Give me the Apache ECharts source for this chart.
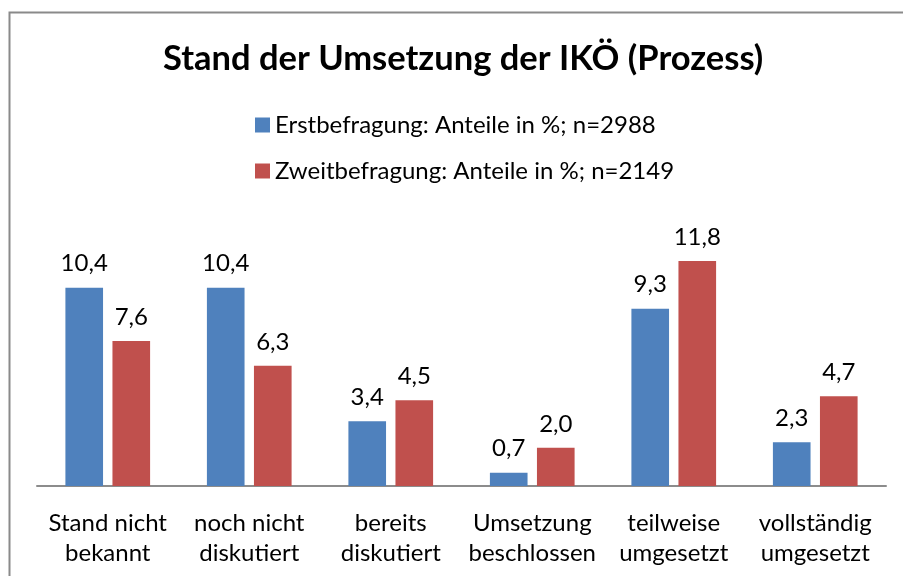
<!DOCTYPE html>
<html>
<head>
<meta charset="utf-8">
<script src="https://cdn.jsdelivr.net/npm/echarts@6/dist/echarts.min.js"></script>
<style>
html,body{margin:0;padding:0;background:#fff;}
#c{width:903px;height:576px;}
</style>
</head>
<body>
<div id="c"></div>
<script>
var titleText = 'Stand der Umsetzung der IKÖ (Prozess)';
var categories = ['Stand nicht\nbekannt', 'noch nicht\ndiskutiert', 'bereits\ndiskutiert', 'Umsetzung\nbeschlossen', 'teilweise\numgesetzt', 'vollständig\numgesetzt'];
var seriesNames = ['Erstbefragung: Anteile in %; n=2988', 'Zweitbefragung: Anteile in %; n=2149'];
var erst = [10.4, 10.4, 3.4, 0.7, 9.3, 2.3];
var zweit = [7.6, 6.3, 4.5, 2.0, 11.8, 4.7];
var colors = ['#4f81bd', '#c0504d'];
var FONT = 'Lato, "Open Sans", sans-serif';

var chart = echarts.init(document.getElementById('c'));
function fmt(p){ return p.value.toFixed(1).replace('.', ','); }
chart.setOption({
  backgroundColor: '#fff',
  animation: false,
  graphic: [{
    type: 'rect', left: 7, top: 10,
    shape: {width: 1000, height: 1000},
    style: {fill: 'none', stroke: '#8a8a8a', lineWidth: 2}
  }],
  title: {
    text: titleText, left: 158, top: 36,
    textStyle: {fontFamily: FONT, fontSize: 34.5, fontWeight: 'bold', color: '#000'}
  },
  legend: {
    orient: 'vertical', left: 250, top: 108, itemGap: 22,
    icon: 'rect', itemWidth: 15, itemHeight: 15,
    textStyle: {fontFamily: FONT, fontSize: 24, color: '#000'},
    data: seriesNames
  },
  grid: {left: 37, right: 17, top: 219, bottom: 90},
  xAxis: {
    type: 'category', data: categories,
    axisTick: {show: false},
    axisLine: {lineStyle: {color: '#8c8c8c', width: 2}},
    axisLabel: {fontFamily: FONT, fontSize: 24, color: '#000', lineHeight: 30, margin: 22, interval: 0}
  },
  yAxis: {type: 'value', min: 0, max: 14, show: false, splitLine: {show: false}},
  series: [
    {name: seriesNames[0], type: 'bar', data: erst, barWidth: '26.6%', barGap: '25%',
     itemStyle: {color: colors[0]},
     label: {show: true, position: 'top', distance: 12, formatter: fmt, fontFamily: FONT, fontSize: 24, color: '#000'}},
    {name: seriesNames[1], type: 'bar', data: zweit, barWidth: '26.6%', barGap: '25%',
     itemStyle: {color: colors[1]},
     label: {show: true, position: 'top', distance: 12, formatter: fmt, fontFamily: FONT, fontSize: 24, color: '#000'}}
  ]
});
</script>
</body>
</html>
